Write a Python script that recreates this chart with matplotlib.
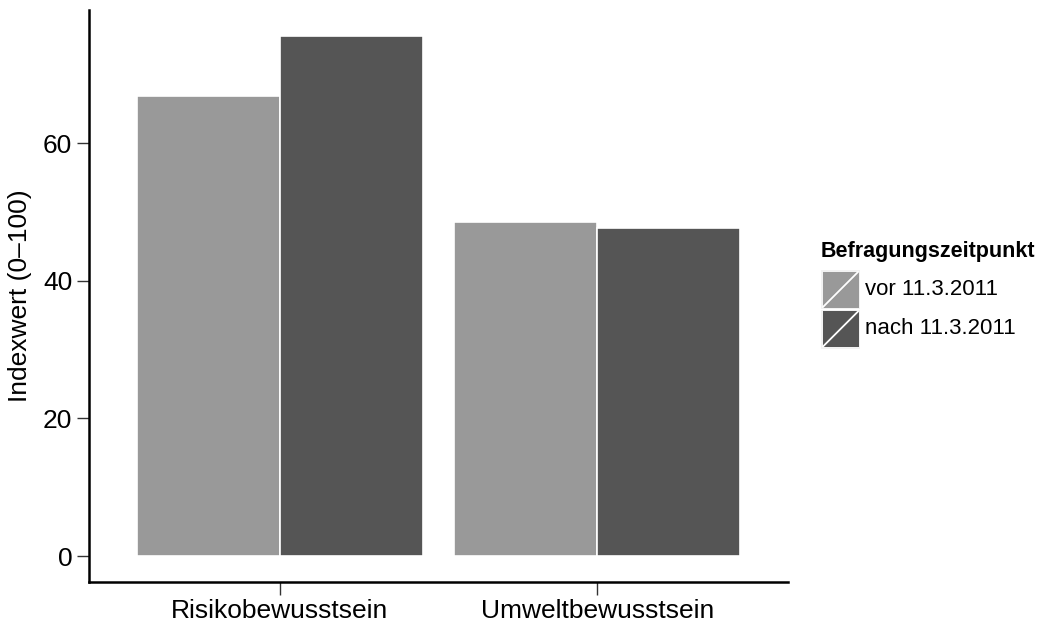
import matplotlib
matplotlib.use("Agg")
import matplotlib.pyplot as plt
import numpy as np
from matplotlib.patches import Rectangle
from matplotlib.lines import Line2D

plt.rcParams['font.family'] = ['Liberation Sans', 'DejaVu Sans']

categories = ["Risikobewusstsein", "Umweltbewusstsein"]
series_names = ["vor 11.3.2011", "nach 11.3.2011"]
vor = [66.9, 48.6]
nach = [75.6, 47.7]
colors = ["#999999", "#555555"]
yticks = [0, 20, 40, 60]
legend_title = "Befragungszeitpunkt"
ylabel = "Indexwert (0\u2013100)"

W, H = 1049, 622
fig = plt.figure(figsize=(W / 100, H / 100), dpi=100)
ax = fig.add_axes([89 / W, (H - 582) / H, (788 - 89) / W, (582 - 10) / H])

x = np.arange(1, len(categories) + 1)
bw = 0.45
for i, (vals, col) in enumerate(zip([vor, nach], colors)):
    ax.bar(x + (i - 0.5) * bw, vals, width=bw, color=col, edgecolor="white", linewidth=1.2)

ymax = max(max(vor), max(nach))
ax.set_xlim(0.4, 2.6)
ax.set_ylim(-0.05 * ymax, 1.05 * ymax)
ax.set_xticks(x)
ax.set_xticklabels(categories, fontsize=19)
ax.set_yticks(yticks)
ax.set_yticklabels([str(t) for t in yticks], fontsize=19)
ax.set_ylabel(ylabel, fontsize=19, labelpad=8)
for s in ["top", "right"]:
    ax.spines[s].set_visible(False)
for s in ["left", "bottom"]:
    ax.spines[s].set_linewidth(1.8)
    ax.spines[s].set_color("black")
ax.tick_params(axis="both", length=9, width=1, color="#333333", labelcolor="black", pad=3)

# legend (manual, ggplot-style)
def fx(px):
    return px / W
def fy(py):
    return 1 - py / H

fig.text(fx(821), fy(252), legend_title, fontsize=15.5, fontweight="bold", va="center", ha="left")
key_tops = [270, 309.5]
for name, col, top in zip(series_names, colors, key_tops):
    x0, x1 = 821, 860
    y0, y1 = top, top + 39
    fig.add_artist(Rectangle((fx(x0), fy(y1)), fx(x1) - fx(x0), fy(y0) - fy(y1),
                             transform=fig.transFigure, facecolor="#F2F2F2", edgecolor="none"))
    fig.add_artist(Rectangle((fx(x0 + 1.5), fy(y1 - 1.5)), fx(x1 - 3) - fx(x0), fy(y0 + 1.5) - fy(y1 - 1.5),
                             transform=fig.transFigure, facecolor=col, edgecolor="none"))
    fig.add_artist(Line2D([fx(x0 + 2), fx(x1 - 2)], [fy(y1 - 2), fy(y0 + 2)],
                          transform=fig.transFigure, color="white", linewidth=1.3))
    fig.text(fx(865), fy((y0 + y1) / 2), name, fontsize=16, va="center", ha="left")

fig.savefig("out.png", dpi=100)
